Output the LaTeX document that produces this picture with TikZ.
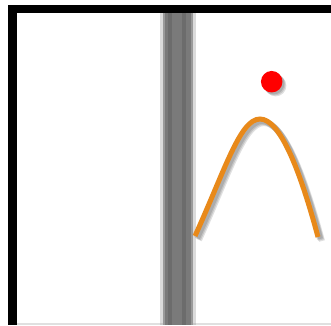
\documentclass[tikz,border=0pt]{standalone}
\usetikzlibrary{shadows}
\definecolor{curveorange}{HTML}{E8891A}
\definecolor{barmid}{HTML}{7A7A7A}
\definecolor{barlight}{HTML}{9A9A9A}
\definecolor{bardark}{HTML}{6C6C6C}
\tikzset{
  frame/.style={fill=black},
  dot/.style={circle, fill=red, minimum size=21.5pt, inner sep=0pt},
  arc/.style={draw=curveorange, line width=5pt, line cap=butt},
  arcshadow/.style={draw=black, line width=6pt, opacity=0.12},
}
\begin{document}
\begin{tikzpicture}[x=1pt,y=-1pt]
\useasboundingbox (0,0) rectangle (331,325);
\fill[white] (0,0) rectangle (331,325);
% bottom faint line
\fill[black!12] (16,322.5) rectangle (331,325);
% frame
\fill[frame] (8,4.5) rectangle (331,13);
\fill[frame] (8,4.5) rectangle (16.5,325);
% gray bar with soft edges
\fill[barlight, opacity=0.35] (160,13) rectangle (196,325);
\fill[barlight] (163,13) rectangle (193,325);
\fill[barmid] (165,13) rectangle (191,325);
\fill[bardark] (168,13) rectangle (172,325);
\fill[bardark] (182,13) rectangle (186,325);
% curve shadow
\foreach \s in {2,3,4}{
  \draw[arcshadow, shift={(\s,\s)}] (195,236) .. controls (225,170) and (240,119) .. (260,119) .. controls (280,119) and (300,170) .. (318,237);
}
% curve
\draw[arc] (195,236) .. controls (225,170) and (240,119) .. (260,119) .. controls (280,119) and (300,170) .. (318,237);
% red dot with shadow
\foreach \s in {2,3,4}{
  \fill[black, opacity=0.12] (271.7+\s,81.7+\s) circle (10.7);
}
\node[dot] (ball) at (271.7,81.7) {};
\end{tikzpicture}
\end{document}
